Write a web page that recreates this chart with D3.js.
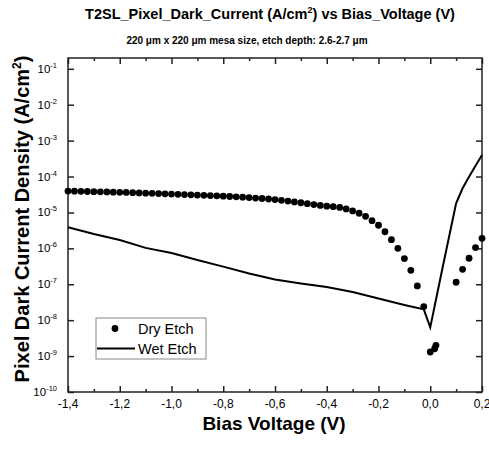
<!DOCTYPE html>
<html>
<head>
<meta charset="utf-8">
<script src="https://cdn.jsdelivr.net/npm/d3@7"></script>
<style>
  body { margin: 0; background: #fff; }
  text { font-family: "Liberation Sans", Arial, sans-serif; fill: #000; }
</style>
</head>
<body>
<div id="canvas"></div>
<script>
// Dry etch points (bias in V, dark current density in A/cm2)
let dryV = [-1.4, -1.375, -1.35, -1.325, -1.3, -1.275, -1.25, -1.225, -1.2, -1.175,
    -1.15, -1.125, -1.1, -1.075, -1.05, -1.025, -1.0, -0.975, -0.95, -0.925,
    -0.9, -0.875, -0.85, -0.825, -0.8, -0.775, -0.75, -0.725, -0.7, -0.675,
    -0.65, -0.625, -0.6, -0.575, -0.55, -0.525, -0.5, -0.475, -0.45, -0.425,
    -0.4, -0.375, -0.35, -0.325, -0.3, -0.275, -0.25, -0.225, -0.2, -0.175,
    -0.15, -0.125, -0.1, -0.075, -0.05, -0.025,
    0.0, 0.017, 0.022,
    0.1, 0.125, 0.15, 0.175, 0.2];
let dryJ = [3.95e-5, 3.9e-5, 3.87e-5, 3.83e-5, 3.8e-5, 3.76e-5, 3.72e-5, 3.68e-5, 3.64e-5, 3.6e-5,
    3.55e-5, 3.5e-5, 3.45e-5, 3.4e-5, 3.35e-5, 3.3e-5, 3.25e-5, 3.2e-5, 3.15e-5, 3.1e-5,
    3.05e-5, 3.0e-5, 2.95e-5, 2.9e-5, 2.84e-5, 2.78e-5, 2.72e-5, 2.66e-5, 2.6e-5, 2.52e-5,
    2.45e-5, 2.37e-5, 2.28e-5, 2.18e-5, 2.08e-5, 1.97e-5, 1.86e-5, 1.76e-5, 1.66e-5, 1.57e-5,
    1.5e-5, 1.45e-5, 1.38e-5, 1.25e-5, 1.1e-5, 9.5e-6, 7.8e-6, 5.9e-6, 4.4e-6, 2.9e-6,
    1.75e-6, 1.0e-6, 5.2e-7, 2.45e-7, 9.0e-8, 2.4e-8,
    1.3e-9, 1.6e-9, 2.0e-9,
    1.14e-7, 2.6e-7, 5.3e-7, 1.05e-6, 1.9e-6];

// Wet etch curve
let wetV = [-1.4, -1.3, -1.2, -1.1, -1.0, -0.9, -0.8, -0.7, -0.6, -0.5, -0.4, -0.3, -0.2, -0.1, -0.025,
    0.0, 0.025, 0.05, 0.075, 0.1, 0.125, 0.15, 0.175, 0.2];
let wetJ = [3.87e-6, 2.52e-6, 1.71e-6, 1.03e-6, 7.4e-7, 4.75e-7, 3.1e-7, 2.0e-7, 1.36e-7, 1.05e-7, 8.4e-8, 6.1e-8, 4.0e-8, 2.65e-8, 2.0e-8,
    6.3e-9, 4.7e-8, 3.5e-7, 2.5e-6, 1.8e-5, 4.7e-5, 9.8e-5, 2.0e-4, 4.0e-4];

let xTicks = [-1.4, -1.2, -1.0, -0.8, -0.6, -0.4, -0.2, 0.0, 0.2];
let xMinorTicks = [-1.3, -1.1, -0.9, -0.7, -0.5, -0.3, -0.1, 0.1];
let yTicks = [1e-10, 1e-9, 1e-8, 1e-7, 1e-6, 1e-5, 1e-4, 1e-3, 1e-2, 1e-1];
let seriesNames = ['Dry Etch', 'Wet Etch'];

let width = 489, height = 449;
let plotL = 68, plotR = 482, plotT = 58, plotB = 392;

let svg = d3.select('#canvas').append('svg')
    .attr('width', width)
    .attr('height', height);

let x = d3.scaleLinear().domain([-1.4, 0.2]).range([plotL, plotR]);
let y = d3.scaleLog().domain([1e-10, 0.2]).range([plotB, plotT]);

// frame
svg.append('rect')
    .attr('x', plotL).attr('y', plotT)
    .attr('width', plotR - plotL).attr('height', plotB - plotT)
    .attr('fill', 'none').attr('stroke', '#222').attr('stroke-width', 1.5);

// ticks on all four sides, pointing inwards
let axisStyle = (g) => {
    g.select('.domain').remove();
    g.selectAll('line').attr('stroke', '#222').attr('stroke-width', 1.5);
};
svg.append('g').attr('transform', `translate(0,${plotB})`)
    .call(d3.axisBottom(x).tickValues(xTicks).tickSize(-6).tickFormat(''))
    .call(axisStyle);
svg.append('g').attr('transform', `translate(0,${plotB})`)
    .call(d3.axisBottom(x).tickValues(xMinorTicks).tickSize(-3).tickFormat(''))
    .call(axisStyle);
svg.append('g').attr('transform', `translate(0,${plotT})`)
    .call(d3.axisTop(x).tickValues(xTicks).tickSize(-6).tickFormat(''))
    .call(axisStyle);
svg.append('g').attr('transform', `translate(0,${plotT})`)
    .call(d3.axisTop(x).tickValues(xMinorTicks).tickSize(-3).tickFormat(''))
    .call(axisStyle);
svg.append('g').attr('transform', `translate(${plotL},0)`)
    .call(d3.axisLeft(y).tickValues(yTicks).tickSize(-6).tickFormat(''))
    .call(axisStyle);
svg.append('g').attr('transform', `translate(${plotR},0)`)
    .call(d3.axisRight(y).tickValues(yTicks).tickSize(-6).tickFormat(''))
    .call(axisStyle);

// x tick labels with comma decimals
svg.selectAll('.xlab')
    .data(xTicks)
    .enter()
    .append('text')
    .attr('class', 'xlab')
    .attr('x', d => x(d))
    .attr('y', plotB + 16)
    .attr('text-anchor', 'middle')
    .style('font-size', '12px')
    .text(d => d3.format('.1f')(d).replace('.', ',').replace('−', '-'));

// y tick labels as 10^n
let ylab = svg.selectAll('.ylab')
    .data(yTicks)
    .enter()
    .append('text')
    .attr('class', 'ylab')
    .attr('x', plotL - 11)
    .attr('y', d => y(d) + 4)
    .attr('text-anchor', 'end')
    .style('font-size', '11.5px');
ylab.append('tspan').text('10');
ylab.append('tspan')
    .attr('dy', -5)
    .style('font-size', '7.5px')
    .text(d => String(Math.round(Math.log10(d))));

// wet etch line
let line = d3.line()
    .x((d, i) => x(wetV[i]))
    .y(d => y(d));
svg.append('path')
    .datum(wetJ)
    .attr('d', line)
    .attr('fill', 'none')
    .attr('stroke', '#000')
    .attr('stroke-width', 2);

// dry etch dots
svg.selectAll('.dry')
    .data(dryJ)
    .enter()
    .append('circle')
    .attr('class', 'dry')
    .attr('cx', (d, i) => x(dryV[i]))
    .attr('cy', d => y(d))
    .attr('r', 3.4)
    .attr('fill', '#000');

// legend
let lg = svg.append('g');
lg.append('rect')
    .attr('x', 96).attr('y', 318).attr('width', 110).attr('height', 41)
    .attr('fill', '#fff').attr('stroke', '#888').attr('stroke-width', 1);
lg.append('circle').attr('cx', 115).attr('cy', 328.5).attr('r', 3.4).attr('fill', '#000');
lg.append('line')
    .attr('x1', 97).attr('x2', 135).attr('y1', 348.5).attr('y2', 348.5)
    .attr('stroke', '#000').attr('stroke-width', 2);
lg.selectAll('.lgtxt')
    .data(seriesNames)
    .enter()
    .append('text')
    .attr('class', 'lgtxt')
    .attr('x', 138)
    .attr('y', (d, i) => 334 + i * 20)
    .style('font-size', '14.5px')
    .text(d => d);

// titles
let title = svg.append('text')
    .attr('x', 270).attr('y', 19)
    .attr('text-anchor', 'middle')
    .style('font-size', '14.5px').style('font-weight', 'bold');
title.append('tspan').text('T2SL_Pixel_Dark_Current (A/cm');
title.append('tspan').attr('dy', -6).style('font-size', '9px').text('2');
title.append('tspan').attr('dy', 6).text(') vs Bias_Voltage (V)');

svg.append('text')
    .attr('x', 247).attr('y', 44)
    .attr('text-anchor', 'middle')
    .style('font-size', '10px').style('font-weight', 'bold')
    .text('220 μm x 220 μm  mesa size, etch depth: 2.6-2.7 μm');

let ytitle = svg.append('text')
    .attr('transform', 'translate(29,219) rotate(-90)')
    .attr('text-anchor', 'middle')
    .style('font-size', '20px').style('font-weight', 'bold');
ytitle.append('tspan').text('Pixel Dark Current Density (A/cm');
ytitle.append('tspan').attr('dy', -8).style('font-size', '12px').text('2');
ytitle.append('tspan').attr('dy', 8).text(')');

svg.append('text')
    .attr('x', 274).attr('y', 430)
    .attr('text-anchor', 'middle')
    .style('font-size', '19px').style('font-weight', 'bold')
    .text('Bias Voltage (V)');
</script>
</body>
</html>
